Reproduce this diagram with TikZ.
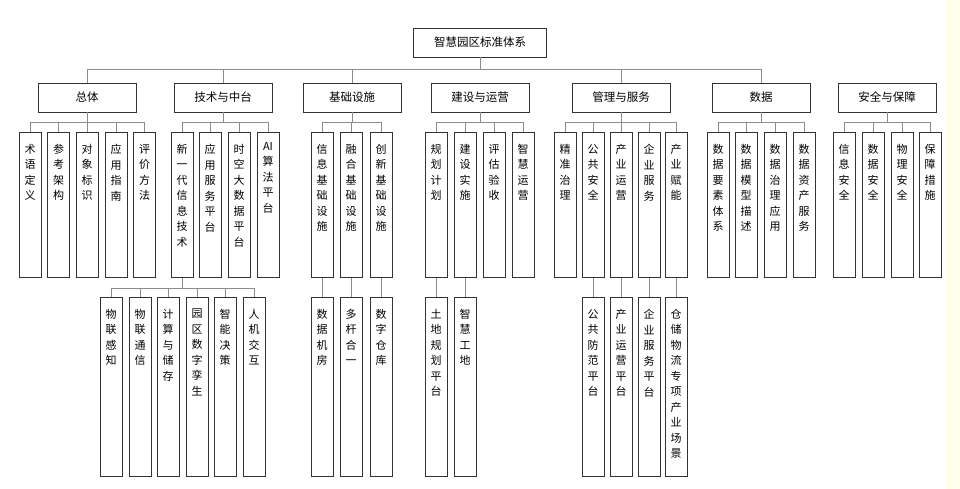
\documentclass[tikz,border=0pt]{standalone}
\usepackage{fontspec}
\setmainfont{Noto Sans CJK SC}
\begin{document}
\begin{tikzpicture}[x=1pt,y=-1pt,
  box/.style={draw=black!80,line width=0.9pt,fill=white,inner sep=0pt},
  conn/.style={draw=black!45,line width=0.9pt},
  lt/.style={anchor=north,align=center,font=\fontsize{11}{15.5}\selectfont,inner sep=0pt}]
\useasboundingbox (0,0) rectangle (960,489);
\fill[white] (0,0) rectangle (960,489);
\fill[yellow!8!white] (946,0) rectangle (960,489);
\newcommand\cat[4]{\node[box,minimum width=98pt,minimum height=29pt,font=\fontsize{11.5}{12}\selectfont] (#1) at (#2,97.5) {#3};
  \draw[conn] (#1.south) -- (#2,122);}
\newcommand\leaf[5]{\node[box,minimum width=22pt,minimum height=#4pt,anchor=north] (#1) at (#2,#3) {};
  \node[lt] (#1t) at ([yshift=-12pt]#1.north) {#5};}
% root
\node[box,minimum width=133pt,minimum height=29pt,font=\fontsize{11.5}{12}\selectfont] (root) at (480,42.5) {智慧园区标准体系};
\draw[conn] (root.south) -- (480,69);
\draw[conn] (87,69) -- (761,69);
\foreach \x in {87,223,352,621,761} \draw[conn] (\x,69) -- (\x,83);
\cat{c1}{87}{总体}{}
\cat{c2}{223}{技术与中台}{}
\cat{c3}{352}{基础设施}{}
\cat{c4}{480}{建设与运营}{}
\cat{c5}{621}{管理与服务}{}
\cat{c6}{761}{数据}{}
\cat{c7}{887}{安全与保障}{}
% leaf buses
\draw[conn] (30,122) -- (144.5,122);
\draw[conn] (182,122) -- (268,122);
\draw[conn] (322,122) -- (381,122);
\draw[conn] (436,122) -- (523,122);
\draw[conn] (565,122) -- (676,122);
\draw[conn] (718,122) -- (804,122);
\draw[conn] (844,122) -- (930,122);
\foreach \x in {30,58.5,87,116,144.5,182,210,239,268,322,351,381,436,465,494,523,565,593,621,649,676,718,746,775,804,844,873,902,930}
  \draw[conn] (\x,122) -- (\x,132);
% leaves
\leaf{a1}{30}{132}{145}{术\\语\\定\\义}
\leaf{a2}{58.5}{132}{145}{参\\考\\架\\构}
\leaf{a3}{87}{132}{145}{对\\象\\标\\识}
\leaf{a4}{116}{132}{145}{应\\用\\指\\南}
\leaf{a5}{144.5}{132}{145}{评\\价\\方\\法}
\leaf{b1}{182}{132}{145}{新\\一\\代\\信\\息\\技\\术}
\leaf{b2}{210}{132}{145}{应\\用\\服\\务\\平\\台}
\leaf{b3}{239}{132}{145}{时\\空\\大\\数\\据\\平\\台}
\node[box,minimum width=22pt,minimum height=145pt,anchor=north] (b4) at (268,132) {};
\node[lt] (b4t) at ([yshift=-10pt]b4.north) {AI\\算\\法\\平\\台};
\leaf{d1}{322}{132}{145}{信\\息\\基\\础\\设\\施}
\leaf{d2}{351}{132}{145}{融\\合\\基\\础\\设\\施}
\leaf{d3}{381}{132}{145}{创\\新\\基\\础\\设\\施}
\leaf{e1}{436}{132}{145}{规\\划\\计\\划}
\leaf{e2}{465}{132}{145}{建\\设\\实\\施}
\leaf{e3}{494}{132}{145}{评\\估\\验\\收}
\leaf{e4}{523}{132}{145}{智\\慧\\运\\营}
\leaf{f1}{565}{132}{145}{精\\准\\治\\理}
\leaf{f2}{593}{132}{145}{公\\共\\安\\全}
\leaf{f3}{621}{132}{145}{产\\业\\运\\营}
\leaf{f4}{649}{132}{145}{企\\业\\服\\务}
\leaf{f5}{676}{132}{145}{产\\业\\赋\\能}
\leaf{g1}{718}{132}{145}{数\\据\\要\\素\\体\\系}
\leaf{g2}{746}{132}{145}{数\\据\\模\\型\\描\\述}
\leaf{g3}{775}{132}{145}{数\\据\\治\\理\\应\\用}
\leaf{g4}{804}{132}{145}{数\\据\\资\\产\\服\\务}
\leaf{h1}{844}{132}{145}{信\\息\\安\\全}
\leaf{h2}{873}{132}{145}{数\\据\\安\\全}
\leaf{h3}{902}{132}{145}{物\\理\\安\\全}
\leaf{h4}{930}{132}{145}{保\\障\\措\\施}
% sub level
\draw[conn] (b1.south) -- (182,288);
\draw[conn] (111,288) -- (254,288);
\foreach \x in {111,140,168,197,225,254} \draw[conn] (\x,288) -- (\x,297);
\leaf{s1}{111}{297}{179}{物\\联\\感\\知}
\leaf{s2}{140}{297}{179}{物\\联\\通\\信}
\leaf{s3}{168}{297}{179}{计\\算\\与\\储\\存}
\leaf{s4}{197}{297}{179}{园\\区\\数\\字\\孪\\生}
\leaf{s5}{225}{297}{179}{智\\能\\决\\策}
\leaf{s6}{254}{297}{179}{人\\机\\交\\互}
\leaf{t1}{322}{297}{179}{数\\据\\机\\房}
\leaf{t2}{351}{297}{179}{多\\杆\\合\\一}
\leaf{t3}{381}{297}{179}{数\\字\\仓\\库}
\leaf{u1}{436}{297}{179}{土\\地\\规\\划\\平\\台}
\leaf{u2}{465}{297}{179}{智\\慧\\工\\地}
\leaf{v1}{593}{297}{179}{公\\共\\防\\范\\平\\台}
\leaf{v2}{621}{297}{179}{产\\业\\运\\营\\平\\台}
\leaf{v3}{649}{297}{179}{企\\业\\服\\务\\平\\台}
\leaf{v4}{676}{297}{179}{仓\\储\\物\\流\\专\\项\\产\\业\\场\\景}
\foreach \p/\c in {d1/t1,d2/t2,d3/t3,e1/u1,e2/u2,f2/v1,f3/v2,f4/v3,f5/v4}
  \draw[conn] (\p.south) -- (\c.north);
\end{tikzpicture}
\end{document}
